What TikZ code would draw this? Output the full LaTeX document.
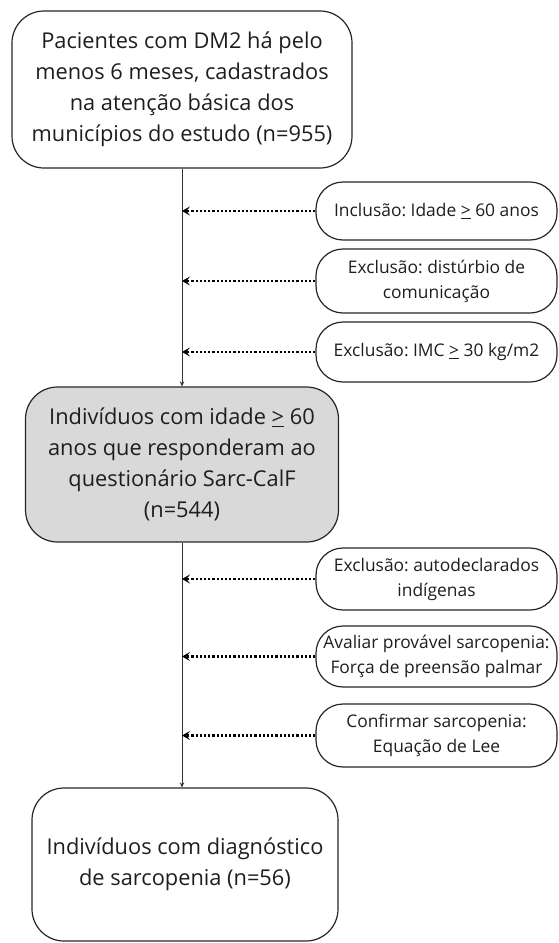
\documentclass[tikz,border=0pt]{standalone}
\usepackage{fontspec}
\setmainfont{Open Sans}
\usetikzlibrary{arrows.meta}
\definecolor{txt}{HTML}{1E1E1E}
\definecolor{grayfill}{HTML}{D9D9D9}
\newcommand{\geqmark}{\underline{>}}
\begin{document}
\frenchspacing
\begin{tikzpicture}[x=1pt,y=-1pt,
  mainbox/.style={draw=black!85, line width=1.2pt, rounded corners=32pt, align=center, text=txt,
    font=\fontsize{21.8}{31}\selectfont, inner sep=0pt},
  sidebox/.style={draw=black!85, line width=1.2pt, rounded corners=27pt, align=center, text=txt,
    font=\fontsize{17.4}{25}\selectfont, inner sep=0pt, minimum width=241pt},
  flow/.style={draw=black!80, line width=0.9pt, -{Stealth[length=5pt,width=4.5pt]}},
  dotarrow/.style={draw=black, line width=2.2pt, dash pattern=on 2.2pt off 2pt,
    -{Stealth[length=8pt,width=9pt,inset=3.5pt]}}
]
\useasboundingbox (0,0) rectangle (559,943);
% main boxes
\node[mainbox, minimum width=340pt, minimum height=157pt] (top) at (182,89.5)
  {Pacientes com DM2 há pelo\\menos 6 meses, cadastrados\\na atenção básica dos\\municípios do estudo (n=955)};
\node[mainbox, fill=grayfill, minimum width=313pt, minimum height=155pt] (mid) at (182,464.5)
  {Indivíduos com idade \geqmark{} 60\\anos que responderam ao\\questionário Sarc-CalF\\(n=544)};
\node[mainbox, minimum width=306pt, minimum height=153pt] (fin) at (185,864.5)
  {Indivíduos com diagnóstico\\de sarcopenia (n=56)};
% side boxes
\node[sidebox, minimum height=58pt] (r1) at (436.5,211) {Inclusão: Idade \geqmark{} 60 anos};
\node[sidebox, minimum height=64pt] (r2) at (436.5,281) {Exclusão: distúrbio de\\comunicação};
\node[sidebox, minimum height=60pt] (r3) at (436.5,352) {Exclusão: IMC \geqmark{} 30 kg/m2};
\node[sidebox, minimum height=62pt] (r4) at (436.5,579) {Exclusão: autodeclarados\\indígenas};
\node[sidebox, minimum height=61pt] (r5) at (436.5,656.5) {Avaliar provável sarcopenia:\\Força de preensão palmar};
\node[sidebox, minimum height=63pt] (r6) at (436.5,735.5) {Confirmar sarcopenia:\\Equação de Lee};
% main flow
\draw[flow] (top.south) -- (mid.north);
\draw[flow] (mid.south) -- (mid.south |- fin.north);
% dotted arrows
\draw[dotarrow] (r1.west) -- (r1.west -| top.south);
\draw[dotarrow] (r2.west) -- (r2.west -| top.south);
\draw[dotarrow] (r3.west) -- (r3.west -| top.south);
\draw[dotarrow] (r4.west) -- (r4.west -| mid.south);
\draw[dotarrow] (r5.west) -- (r5.west -| mid.south);
\draw[dotarrow] (r6.west) -- (r6.west -| mid.south);
\end{tikzpicture}
\end{document}
